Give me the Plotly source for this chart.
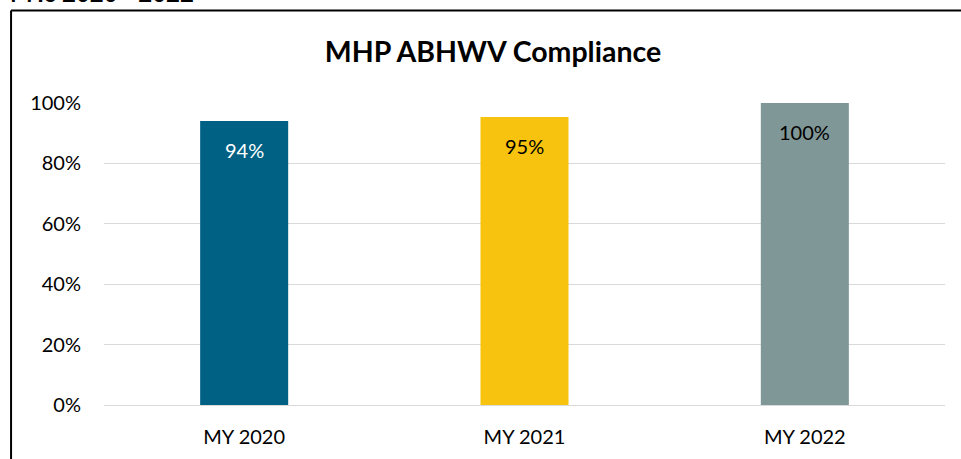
import plotly.graph_objects as go

categories = ["MY 2020", "MY 2021", "MY 2022"]
values = [0.94, 0.954, 1.00]
labels = ["94%", "95%", "100%"]
bar_colors = ["#006184", "#F7C30E", "#809797"]
label_colors = ["#FFFFFF", "#000000", "#000000"]
y_ticks = [0, 0.2, 0.4, 0.6, 0.8, 1.0]
y_tick_text = ["0%", "20%", "40%", "60%", "80%", "100%"]

FONT = "Lato"
W, H = 961, 459
L, R, T, B = 104, 15.5, 103, 54
pw, ph = W - L - R, H - T - B

fig = go.Figure()
fig.add_trace(go.Bar(
    x=categories, y=values, marker_color=bar_colors,
    marker_line_width=0, width=0.314, hoverinfo="skip",
))

for c, v, t, col in zip(categories, values, labels, label_colors):
    fig.add_annotation(x=c, y=v, text=t, showarrow=False, yanchor="middle",
                       yshift=-29, font=dict(family=FONT, size=20, color=col))

def px_x(p):
    return (p - L) / pw

def px_y(p):
    return (H - B - p) / ph

# outer frame
fig.add_shape(type="line", xref="paper", yref="paper",
              x0=px_x(11), x1=px_x(975), y0=px_y(10.5), y1=px_y(10.5),
              line=dict(color="#000000", width=2))
fig.add_shape(type="line", xref="paper", yref="paper",
              x0=px_x(11), x1=px_x(11), y0=px_y(10.5), y1=px_y(470),
              line=dict(color="#000000", width=2))

# cut-off heading above frame
fig.add_annotation(xref="paper", yref="paper", x=px_x(8), y=px_y(-8),
                   xanchor="left", yanchor="middle", showarrow=False,
                   text="<b>MYs 2020 - 2022</b>",
                   font=dict(family=FONT, size=24, color="#000000"))

fig.update_layout(
    width=W, height=H,
    margin=dict(l=L, r=R, t=T, b=B, autoexpand=False),
    paper_bgcolor="#FFFFFF", plot_bgcolor="#FFFFFF",
    showlegend=False,
    bargap=0.686,
    title=dict(text="<b>MHP ABHWV Compliance</b>", x=493 / W,
               xanchor="center", y=1 - 52 / H, yanchor="middle",
               font=dict(family=FONT, size=28.5, color="#000000")),
    font=dict(family=FONT, color="#000000"),
)
fig.update_yaxes(range=[0, 1], tickvals=y_ticks, ticktext=y_tick_text,
                 showgrid=True, gridcolor="#D9D9D9", gridwidth=1.3,
                 zeroline=True, zerolinecolor="#D9D9D9", zerolinewidth=1.3,
                 showline=False, ticks="", ticklabelstandoff=22,
                 tickfont=dict(family=FONT, size=20, color="#000000"))
fig.update_xaxes(showgrid=False, showline=False, ticks="", ticklabelstandoff=18,
                 tickfont=dict(family=FONT, size=20, color="#000000"))

fig.write_html("out.html", config={"displayModeBar": False})

with open("out.html", "r", encoding="utf-8") as f:
    html = f.read()
html = html.replace("<head>", "<head><style>html,body{margin:0;padding:0;overflow:hidden;}</style>", 1)
with open("out.html", "w", encoding="utf-8") as f:
    f.write(html)
